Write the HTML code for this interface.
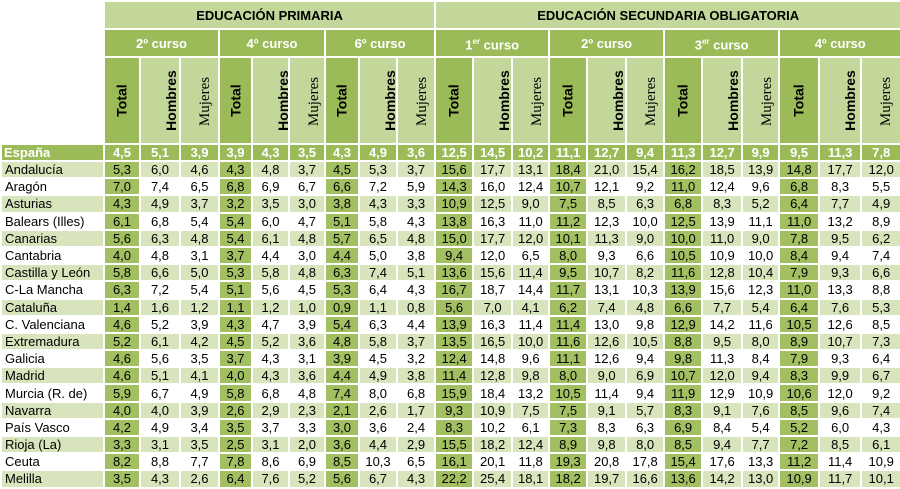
<!DOCTYPE html>
<html><head><meta charset="utf-8"><style>
html,body{margin:0;padding:0;background:#fff;}
table{border-collapse:collapse;table-layout:fixed;width:900px;font-family:"Liberation Sans",sans-serif;font-size:13px;color:#000;}
td{border:2px solid #fff;padding:0;text-align:center;line-height:13px;overflow:hidden;white-space:nowrap;}
tr{height:17.2px;}
tr.h1{height:28px;} tr.h2{height:28px;} tr.h3{height:87px;} tr.es{height:17px;}
tr.h1 td{background:#c4d79b;font-weight:bold;font-size:13px;}
tr.h2 td{background:#9bbb59;color:#fff;font-weight:bold;font-size:13px;}
tr.h3 td{background:#c4d79b;font-weight:bold;font-size:14px;}
tr.h3 td.t{background:#9bbb59;}
tr.h3 td span{display:inline-block;transform:rotate(-90deg);}
tr.h3 td.m span{font-family:"Liberation Serif",serif;font-weight:normal;font-size:15px;}
td.blank{background:#fff!important;}
tr.es td{background:#9bbb59;color:#fff;font-weight:bold;font-size:13px;}
tr.es td.n{text-align:left;padding-left:2px;}
td.n{text-align:left;padding-left:3px;}
tr.o td{background:#d8e4bc;}
tr.w td{background:#fff;}
tr.o td.t,tr.w td.t{background:#a2c062;}
</style></head><body>
<table>
<colgroup><col style="width:103px">
<col style="width:36px"><col style="width:40px"><col style="width:39px">
<col style="width:33px"><col style="width:37px"><col style="width:36px">
<col style="width:34px"><col style="width:38px"><col style="width:38px">
<col style="width:38px"><col style="width:39px"><col style="width:37px">
<col style="width:38px"><col style="width:39px"><col style="width:38px">
<col style="width:38px"><col style="width:40px"><col style="width:37px">
<col style="width:40px"><col style="width:42px"><col style="width:40px">
</colgroup>
<tr class="h1"><td class="blank" rowspan="3"></td><td colspan="9">EDUCACIÓN PRIMARIA</td><td colspan="12">EDUCACIÓN SECUNDARIA OBLIGATORIA</td></tr>
<tr class="h2"><td colspan="3">2º curso</td><td colspan="3">4º curso</td><td colspan="3">6º curso</td><td colspan="3">1<sup style="font-size:8px">er</sup> curso</td><td colspan="3">2º curso</td><td colspan="3">3<sup style="font-size:8px">er</sup> curso</td><td colspan="3">4º curso</td></tr>
<tr class="h3">
<td class="t"><span>Total</span></td><td><span>Hombres</span></td><td class="m"><span>Mujeres</span></td>
<td class="t"><span>Total</span></td><td><span>Hombres</span></td><td class="m"><span>Mujeres</span></td>
<td class="t"><span>Total</span></td><td><span>Hombres</span></td><td class="m"><span>Mujeres</span></td>
<td class="t"><span>Total</span></td><td><span>Hombres</span></td><td class="m"><span>Mujeres</span></td>
<td class="t"><span>Total</span></td><td><span>Hombres</span></td><td class="m"><span>Mujeres</span></td>
<td class="t"><span>Total</span></td><td><span>Hombres</span></td><td class="m"><span>Mujeres</span></td>
<td class="t"><span>Total</span></td><td><span>Hombres</span></td><td class="m"><span>Mujeres</span></td>
</tr>
<tr class="es"><td class="n">España</td><td>4,5</td><td>5,1</td><td>3,9</td><td>3,9</td><td>4,3</td><td>3,5</td><td>4,3</td><td>4,9</td><td>3,6</td><td>12,5</td><td>14,5</td><td>10,2</td><td>11,1</td><td>12,7</td><td>9,4</td><td>11,3</td><td>12,7</td><td>9,9</td><td>9,5</td><td>11,3</td><td>7,8</td></tr>
<tr class="o"><td class="n">Andalucía</td><td class="t">5,3</td><td>6,0</td><td>4,6</td><td class="t">4,3</td><td>4,8</td><td>3,7</td><td class="t">4,5</td><td>5,3</td><td>3,7</td><td class="t">15,6</td><td>17,7</td><td>13,1</td><td class="t">18,4</td><td>21,0</td><td>15,4</td><td class="t">16,2</td><td>18,5</td><td>13,9</td><td class="t">14,8</td><td>17,7</td><td>12,0</td></tr>
<tr class="w"><td class="n">Aragón</td><td class="t">7,0</td><td>7,4</td><td>6,5</td><td class="t">6,8</td><td>6,9</td><td>6,7</td><td class="t">6,6</td><td>7,2</td><td>5,9</td><td class="t">14,3</td><td>16,0</td><td>12,4</td><td class="t">10,7</td><td>12,1</td><td>9,2</td><td class="t">11,0</td><td>12,4</td><td>9,6</td><td class="t">6,8</td><td>8,3</td><td>5,5</td></tr>
<tr class="o"><td class="n">Asturias</td><td class="t">4,3</td><td>4,9</td><td>3,7</td><td class="t">3,2</td><td>3,5</td><td>3,0</td><td class="t">3,8</td><td>4,3</td><td>3,3</td><td class="t">10,9</td><td>12,5</td><td>9,0</td><td class="t">7,5</td><td>8,5</td><td>6,3</td><td class="t">6,8</td><td>8,3</td><td>5,2</td><td class="t">6,4</td><td>7,7</td><td>4,9</td></tr>
<tr class="w"><td class="n">Balears (Illes)</td><td class="t">6,1</td><td>6,8</td><td>5,4</td><td class="t">5,4</td><td>6,0</td><td>4,7</td><td class="t">5,1</td><td>5,8</td><td>4,3</td><td class="t">13,8</td><td>16,3</td><td>11,0</td><td class="t">11,2</td><td>12,3</td><td>10,0</td><td class="t">12,5</td><td>13,9</td><td>11,1</td><td class="t">11,0</td><td>13,2</td><td>8,9</td></tr>
<tr class="o"><td class="n">Canarias</td><td class="t">5,6</td><td>6,3</td><td>4,8</td><td class="t">5,4</td><td>6,1</td><td>4,8</td><td class="t">5,7</td><td>6,5</td><td>4,8</td><td class="t">15,0</td><td>17,7</td><td>12,0</td><td class="t">10,1</td><td>11,3</td><td>9,0</td><td class="t">10,0</td><td>11,0</td><td>9,0</td><td class="t">7,8</td><td>9,5</td><td>6,2</td></tr>
<tr class="w"><td class="n">Cantabria</td><td class="t">4,0</td><td>4,8</td><td>3,1</td><td class="t">3,7</td><td>4,4</td><td>3,0</td><td class="t">4,4</td><td>5,0</td><td>3,8</td><td class="t">9,4</td><td>12,0</td><td>6,5</td><td class="t">8,0</td><td>9,3</td><td>6,6</td><td class="t">10,5</td><td>10,9</td><td>10,0</td><td class="t">8,4</td><td>9,4</td><td>7,4</td></tr>
<tr class="o"><td class="n">Castilla y León</td><td class="t">5,8</td><td>6,6</td><td>5,0</td><td class="t">5,3</td><td>5,8</td><td>4,8</td><td class="t">6,3</td><td>7,4</td><td>5,1</td><td class="t">13,6</td><td>15,6</td><td>11,4</td><td class="t">9,5</td><td>10,7</td><td>8,2</td><td class="t">11,6</td><td>12,8</td><td>10,4</td><td class="t">7,9</td><td>9,3</td><td>6,6</td></tr>
<tr class="w"><td class="n">C-La Mancha</td><td class="t">6,3</td><td>7,2</td><td>5,4</td><td class="t">5,1</td><td>5,6</td><td>4,5</td><td class="t">5,3</td><td>6,4</td><td>4,3</td><td class="t">16,7</td><td>18,7</td><td>14,4</td><td class="t">11,7</td><td>13,1</td><td>10,3</td><td class="t">13,9</td><td>15,6</td><td>12,3</td><td class="t">11,0</td><td>13,3</td><td>8,8</td></tr>
<tr class="o"><td class="n">Cataluña</td><td class="t">1,4</td><td>1,6</td><td>1,2</td><td class="t">1,1</td><td>1,2</td><td>1,0</td><td class="t">0,9</td><td>1,1</td><td>0,8</td><td class="t">5,6</td><td>7,0</td><td>4,1</td><td class="t">6,2</td><td>7,4</td><td>4,8</td><td class="t">6,6</td><td>7,7</td><td>5,4</td><td class="t">6,4</td><td>7,6</td><td>5,3</td></tr>
<tr class="w"><td class="n">C. Valenciana</td><td class="t">4,6</td><td>5,2</td><td>3,9</td><td class="t">4,3</td><td>4,7</td><td>3,9</td><td class="t">5,4</td><td>6,3</td><td>4,4</td><td class="t">13,9</td><td>16,3</td><td>11,4</td><td class="t">11,4</td><td>13,0</td><td>9,8</td><td class="t">12,9</td><td>14,2</td><td>11,6</td><td class="t">10,5</td><td>12,6</td><td>8,5</td></tr>
<tr class="o"><td class="n">Extremadura</td><td class="t">5,2</td><td>6,1</td><td>4,2</td><td class="t">4,5</td><td>5,2</td><td>3,6</td><td class="t">4,8</td><td>5,8</td><td>3,7</td><td class="t">13,5</td><td>16,5</td><td>10,0</td><td class="t">11,6</td><td>12,6</td><td>10,5</td><td class="t">8,8</td><td>9,5</td><td>8,0</td><td class="t">8,9</td><td>10,7</td><td>7,3</td></tr>
<tr class="w"><td class="n">Galicia</td><td class="t">4,6</td><td>5,6</td><td>3,5</td><td class="t">3,7</td><td>4,3</td><td>3,1</td><td class="t">3,9</td><td>4,5</td><td>3,2</td><td class="t">12,4</td><td>14,8</td><td>9,6</td><td class="t">11,1</td><td>12,6</td><td>9,4</td><td class="t">9,8</td><td>11,3</td><td>8,4</td><td class="t">7,9</td><td>9,3</td><td>6,4</td></tr>
<tr class="o"><td class="n">Madrid</td><td class="t">4,6</td><td>5,1</td><td>4,1</td><td class="t">4,0</td><td>4,3</td><td>3,6</td><td class="t">4,4</td><td>4,9</td><td>3,8</td><td class="t">11,4</td><td>12,8</td><td>9,8</td><td class="t">8,0</td><td>9,0</td><td>6,9</td><td class="t">10,7</td><td>12,0</td><td>9,4</td><td class="t">8,3</td><td>9,9</td><td>6,7</td></tr>
<tr class="w"><td class="n">Murcia (R. de)</td><td class="t">5,9</td><td>6,7</td><td>4,9</td><td class="t">5,8</td><td>6,8</td><td>4,8</td><td class="t">7,4</td><td>8,0</td><td>6,8</td><td class="t">15,9</td><td>18,4</td><td>13,2</td><td class="t">10,5</td><td>11,4</td><td>9,4</td><td class="t">11,9</td><td>12,9</td><td>10,9</td><td class="t">10,6</td><td>12,0</td><td>9,2</td></tr>
<tr class="o"><td class="n">Navarra</td><td class="t">4,0</td><td>4,0</td><td>3,9</td><td class="t">2,6</td><td>2,9</td><td>2,3</td><td class="t">2,1</td><td>2,6</td><td>1,7</td><td class="t">9,3</td><td>10,9</td><td>7,5</td><td class="t">7,5</td><td>9,1</td><td>5,7</td><td class="t">8,3</td><td>9,1</td><td>7,6</td><td class="t">8,5</td><td>9,6</td><td>7,4</td></tr>
<tr class="w"><td class="n">País Vasco</td><td class="t">4,2</td><td>4,9</td><td>3,4</td><td class="t">3,5</td><td>3,7</td><td>3,3</td><td class="t">3,0</td><td>3,6</td><td>2,4</td><td class="t">8,3</td><td>10,2</td><td>6,1</td><td class="t">7,3</td><td>8,3</td><td>6,3</td><td class="t">6,9</td><td>8,4</td><td>5,4</td><td class="t">5,2</td><td>6,0</td><td>4,3</td></tr>
<tr class="o"><td class="n">Rioja (La)</td><td class="t">3,3</td><td>3,1</td><td>3,5</td><td class="t">2,5</td><td>3,1</td><td>2,0</td><td class="t">3,6</td><td>4,4</td><td>2,9</td><td class="t">15,5</td><td>18,2</td><td>12,4</td><td class="t">8,9</td><td>9,8</td><td>8,0</td><td class="t">8,5</td><td>9,4</td><td>7,7</td><td class="t">7,2</td><td>8,5</td><td>6,1</td></tr>
<tr class="w"><td class="n">Ceuta</td><td class="t">8,2</td><td>8,8</td><td>7,7</td><td class="t">7,8</td><td>8,6</td><td>6,9</td><td class="t">8,5</td><td>10,3</td><td>6,5</td><td class="t">16,1</td><td>20,1</td><td>11,8</td><td class="t">19,3</td><td>20,8</td><td>17,8</td><td class="t">15,4</td><td>17,6</td><td>13,3</td><td class="t">11,2</td><td>11,4</td><td>10,9</td></tr>
<tr class="o"><td class="n">Melilla</td><td class="t">3,5</td><td>4,3</td><td>2,6</td><td class="t">6,4</td><td>7,6</td><td>5,2</td><td class="t">5,6</td><td>6,7</td><td>4,3</td><td class="t">22,2</td><td>25,4</td><td>18,1</td><td class="t">18,2</td><td>19,7</td><td>16,6</td><td class="t">13,6</td><td>14,2</td><td>13,0</td><td class="t">10,9</td><td>11,7</td><td>10,1</td></tr>
</table>
</body></html>
